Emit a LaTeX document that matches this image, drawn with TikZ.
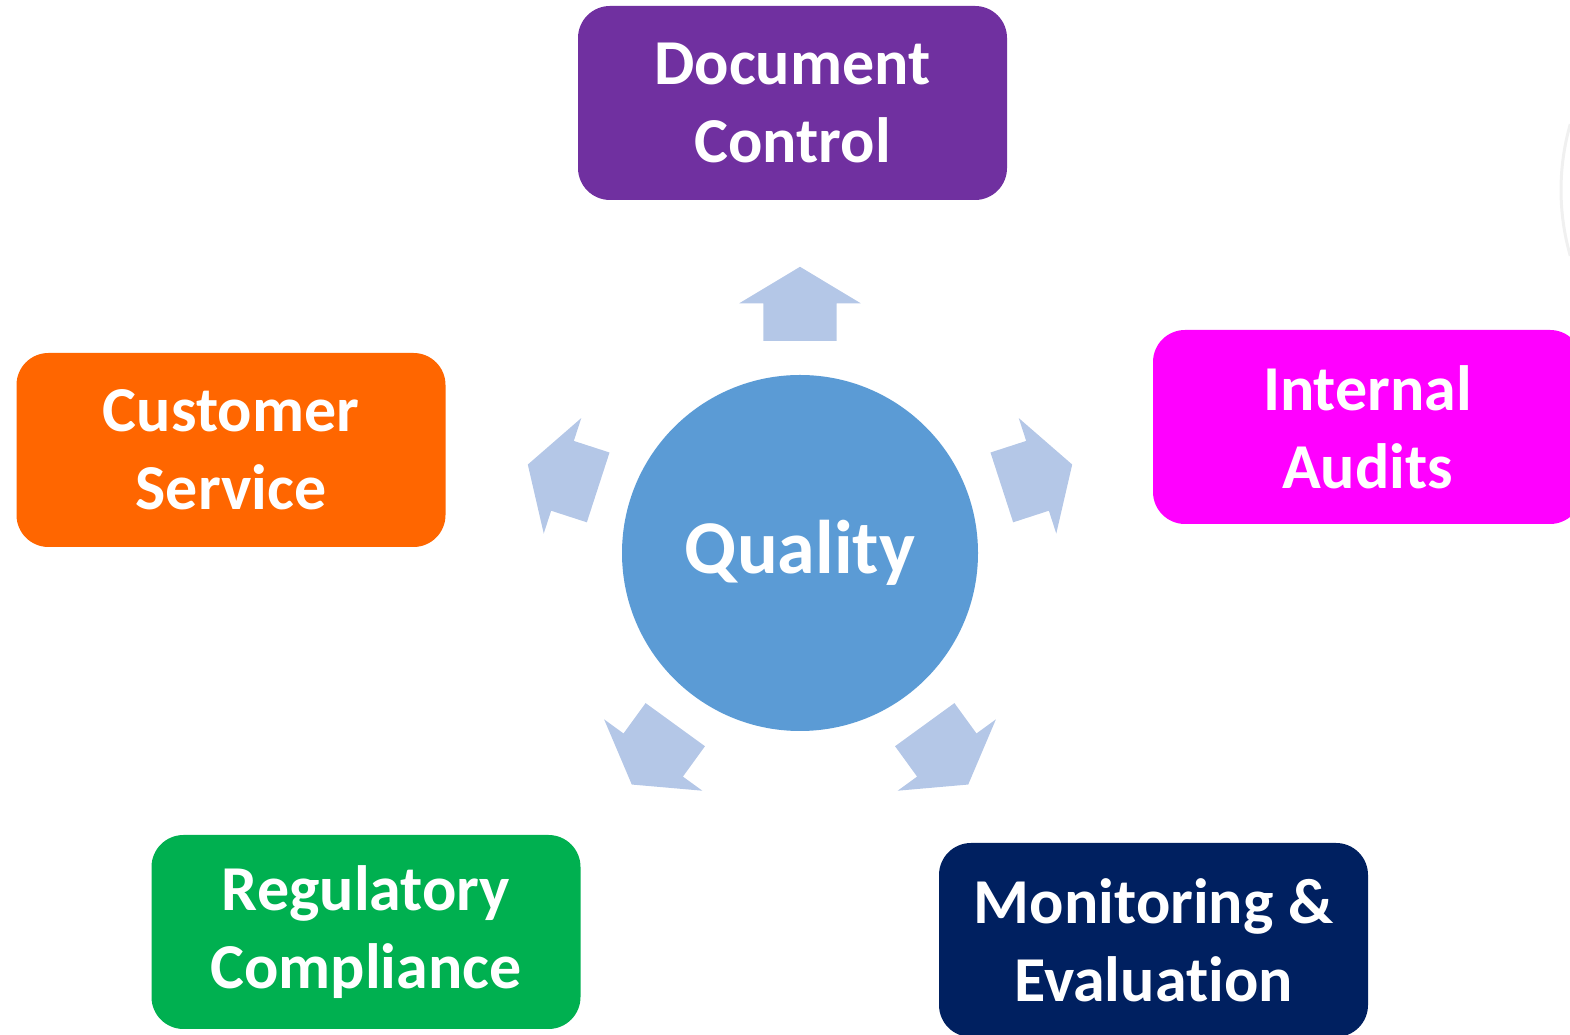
\documentclass[tikz,border=0pt]{standalone}
\usepackage{xcolor}
\usepackage{fontspec}
\setmainfont[Ligatures=NoCommon]{Carlito}
\usepackage{tikz}
\usetikzlibrary{shapes,arrows,positioning}

\definecolor{docpurple}{HTML}{7030A0}
\definecolor{custorange}{HTML}{FF6600}
\definecolor{auditpink}{HTML}{FF00FF}
\definecolor{reggreen}{HTML}{00B050}
\definecolor{monnavy}{HTML}{002060}
\definecolor{hubblue}{HTML}{5B9BD5}
\definecolor{spokeblue}{HTML}{B4C7E7}

\tikzstyle{block} = [rectangle, rounded corners=32pt, text=white, align=center, minimum width=429pt, minimum height=194pt, inner sep=0pt, font=\bfseries\fontsize{64}{78}\selectfont]
\tikzstyle{hub} = [circle, fill=hubblue, text=white, minimum size=356pt, font=\bfseries\fontsize{76}{80}\selectfont]
\tikzstyle{spoke} = [single arrow, fill=spokeblue, text height=73pt, text depth=0pt, text width=0pt, minimum height=74pt, single arrow head extend=24pt, single arrow tip angle=118, inner sep=0pt, anchor=tail]

\begin{document}
\begin{tikzpicture}[x=1pt, y=1pt]
    \useasboundingbox (0,0) rectangle (1570,1035);

    % edge of the next shape peeking in on the right
    \draw [gray!12, line width=3pt] (1800,845) ++(164:239) arc (164:196:239);

    \node [hub] (quality) at (800,482) {Quality};

    \node [block, fill=docpurple] (document) at (792.5,932) {Document\\Control};
    \node [block, fill=custorange] (customer) at (231,585) {Customer\\Service};
    \node [block, fill=auditpink] (audits) at (1367.5,608) {Internal\\Audits};
    \node [block, fill=reggreen, yshift=-4pt] (regulatory) at (366,107) {Regulatory\\Compliance};
    \node [block, fill=monnavy] (monitoring) at (1153.5,95) {Monitoring \&\\Evaluation};

    % five block arrows pointing out of the hub
    \foreach \a/\n in {90/top, 18/right, -54/lowright, 234/lowleft, 162/left}
        \node [spoke, rotate=\a] (spoke-\n) at ([shift={(\a:212)}]quality.center) {};
\end{tikzpicture}
\end{document}
